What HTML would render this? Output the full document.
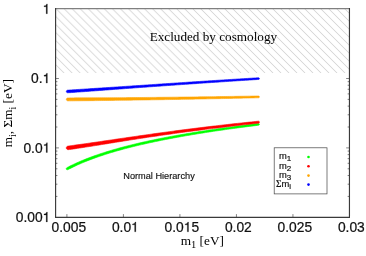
<!DOCTYPE html>
<html><head><meta charset="utf-8"><style>
html,body{margin:0;padding:0;background:#fff;}
body{width:366px;height:256px;overflow:hidden;}
svg{display:block;}
.sans{font-family:"Liberation Sans",sans-serif;}
.serif{font-family:"Liberation Serif",serif;}
</style></head><body>
<svg width="366" height="256" viewBox="0 0 366 256">
<rect width="366" height="256" fill="#fff"/>
<defs><filter id="bl" x="0" y="0" width="100%" height="100%" filterUnits="userSpaceOnUse" color-interpolation-filters="sRGB"><feGaussianBlur stdDeviation="0.3"/></filter><clipPath id="hc"><rect x="55.6" y="8.6" width="293.84999999999997" height="64.50"/></clipPath></defs>
<g filter="url(#bl)"><g clip-path="url(#hc)"><path d="M-8.34 8.60 L56.17 73.10 M-0.30 8.60 L64.20 73.10 M7.74 8.60 L72.24 73.10 M15.77 8.60 L80.28 73.10 M23.81 8.60 L88.31 73.10 M31.84 8.60 L96.35 73.10 M39.88 8.60 L104.38 73.10 M47.92 8.60 L112.42 73.10 M55.95 8.60 L120.46 73.10 M63.99 8.60 L128.49 73.10 M72.02 8.60 L136.53 73.10 M80.06 8.60 L144.56 73.10 M88.10 8.60 L152.60 73.10 M96.13 8.60 L160.64 73.10 M104.17 8.60 L168.67 73.10 M112.20 8.60 L176.71 73.10 M120.24 8.60 L184.74 73.10 M128.28 8.60 L192.78 73.10 M136.31 8.60 L200.82 73.10 M144.35 8.60 L208.85 73.10 M152.38 8.60 L216.89 73.10 M160.42 8.60 L224.92 73.10 M168.46 8.60 L232.96 73.10 M176.49 8.60 L241.00 73.10 M184.53 8.60 L249.03 73.10 M192.56 8.60 L257.07 73.10 M200.60 8.60 L265.10 73.10 M208.60 8.60 L273.10 73.10 M216.60 8.60 L281.10 73.10 M224.60 8.60 L289.10 73.10 M232.60 8.60 L297.10 73.10 M240.60 8.60 L305.10 73.10 M248.60 8.60 L313.10 73.10 M256.60 8.60 L321.10 73.10 M264.60 8.60 L329.10 73.10 M272.60 8.60 L337.10 73.10 M280.60 8.60 L345.10 73.10 M288.60 8.60 L353.10 73.10 M296.60 8.60 L361.10 73.10 M304.60 8.60 L369.10 73.10 M312.60 8.60 L377.10 73.10 M320.60 8.60 L385.10 73.10 M328.60 8.60 L393.10 73.10 M336.60 8.60 L401.10 73.10 M344.60 8.60 L409.10 73.10" stroke="#f8f8f8" stroke-width="2.0" fill="none"/><path d="M-8.34 8.60 L56.17 73.10 M-0.30 8.60 L64.20 73.10 M7.74 8.60 L72.24 73.10 M15.77 8.60 L80.28 73.10 M23.81 8.60 L88.31 73.10 M31.84 8.60 L96.35 73.10 M39.88 8.60 L104.38 73.10 M47.92 8.60 L112.42 73.10 M55.95 8.60 L120.46 73.10 M63.99 8.60 L128.49 73.10 M72.02 8.60 L136.53 73.10 M80.06 8.60 L144.56 73.10 M88.10 8.60 L152.60 73.10 M96.13 8.60 L160.64 73.10 M104.17 8.60 L168.67 73.10 M112.20 8.60 L176.71 73.10 M120.24 8.60 L184.74 73.10 M128.28 8.60 L192.78 73.10 M136.31 8.60 L200.82 73.10 M144.35 8.60 L208.85 73.10 M152.38 8.60 L216.89 73.10 M160.42 8.60 L224.92 73.10 M168.46 8.60 L232.96 73.10 M176.49 8.60 L241.00 73.10 M184.53 8.60 L249.03 73.10 M192.56 8.60 L257.07 73.10 M200.60 8.60 L265.10 73.10 M208.60 8.60 L273.10 73.10 M216.60 8.60 L281.10 73.10 M224.60 8.60 L289.10 73.10 M232.60 8.60 L297.10 73.10 M240.60 8.60 L305.10 73.10 M248.60 8.60 L313.10 73.10 M256.60 8.60 L321.10 73.10 M264.60 8.60 L329.10 73.10 M272.60 8.60 L337.10 73.10 M280.60 8.60 L345.10 73.10 M288.60 8.60 L353.10 73.10 M296.60 8.60 L361.10 73.10 M304.60 8.60 L369.10 73.10 M312.60 8.60 L377.10 73.10 M320.60 8.60 L385.10 73.10 M328.60 8.60 L393.10 73.10 M336.60 8.60 L401.10 73.10 M344.60 8.60 L409.10 73.10" stroke="#d9d9d9" stroke-width="1.0" fill="none"/></g>
<path d="M55.60 127.01 H57.40 M349.45 127.01 H347.65 M55.60 114.79 H57.40 M349.45 114.79 H347.65 M55.60 106.12 H57.40 M349.45 106.12 H347.65 M55.60 99.39 H57.40 M349.45 99.39 H347.65 M55.60 93.90 H57.40 M349.45 93.90 H347.65 M55.60 89.25 H57.40 M349.45 89.25 H347.65 M55.60 85.23 H57.40 M349.45 85.23 H347.65 M55.60 81.68 H57.40 M349.45 81.68 H347.65 M55.60 196.41 H57.40 M349.45 196.41 H347.65 M55.60 184.19 H57.40 M349.45 184.19 H347.65 M55.60 175.52 H57.40 M349.45 175.52 H347.65 M55.60 168.79 H57.40 M349.45 168.79 H347.65 M55.60 163.30 H57.40 M349.45 163.30 H347.65 M55.60 158.65 H57.40 M349.45 158.65 H347.65 M55.60 154.63 H57.40 M349.45 154.63 H347.65 M55.60 151.08 H57.40 M349.45 151.08 H347.65" stroke="#444" stroke-width="0.7" fill="none"/>
<path d="M66.90 217.30 V214.10 M123.41 217.30 V214.10 M179.92 217.30 V214.10 M236.43 217.30 V214.10 M292.94 217.30 V214.10 M55.60 78.50 H58.90 M349.45 78.50 H346.15 M55.60 147.90 H58.90 M349.45 147.90 H346.15" stroke="#666" stroke-width="0.8" fill="none"/>
<path d="M55.6 8.6 H349.45" fill="none" stroke="#808080" stroke-width="1.1"/>
<path d="M55.6 8.1 V217.4 H349.45 V8.1" fill="none" stroke="#3a3a3a" stroke-width="1.15" stroke-linejoin="miter"/>
<path d="M66.30 169.26 L66.20 168.84 L66.23 168.64 L66.27 168.48 L66.33 168.35 L66.39 168.23 L66.46 168.12 L66.54 168.02 L66.62 167.93 L66.70 167.84 L66.79 167.76 L66.88 167.69 L66.97 167.62 L67.07 167.56 L67.17 167.50 L67.27 167.45 L67.37 167.40 L67.47 167.34 L67.57 167.29 L67.67 167.24 L67.77 167.19 L67.87 167.13 L67.97 167.08 L68.07 167.03 L68.17 166.98 L68.27 166.93 L68.37 166.88 L68.48 166.82 L68.58 166.77 L68.68 166.72 L68.78 166.67 L68.88 166.62 L70.89 165.61 L72.91 164.63 L74.92 163.69 L76.93 162.77 L78.95 161.88 L80.96 161.02 L82.97 160.18 L84.98 159.36 L86.99 158.57 L89.00 157.80 L91.01 157.04 L93.02 156.31 L95.03 155.59 L97.04 154.89 L99.05 154.20 L101.05 153.53 L103.06 152.88 L105.07 152.24 L107.08 151.61 L109.08 151.00 L111.09 150.39 L113.09 149.80 L115.10 149.22 L117.11 148.66 L119.11 148.10 L121.12 147.55 L123.12 147.02 L125.13 146.49 L127.13 145.97 L129.14 145.46 L131.14 144.96 L133.15 144.47 L135.15 143.98 L137.16 143.51 L139.16 143.04 L141.16 142.58 L143.17 142.12 L145.17 141.67 L147.18 141.23 L149.18 140.80 L151.18 140.37 L153.19 139.95 L155.19 139.53 L157.19 139.12 L159.20 138.71 L161.20 138.31 L163.20 137.92 L165.21 137.53 L167.21 137.14 L169.21 136.77 L171.21 136.39 L173.22 136.02 L175.22 135.65 L177.22 135.29 L179.22 134.94 L181.23 134.58 L183.23 134.24 L185.23 133.89 L187.23 133.55 L189.24 133.22 L191.24 132.88 L193.24 132.55 L195.24 132.23 L197.24 131.91 L199.25 131.59 L201.25 131.27 L203.25 130.96 L205.25 130.65 L207.25 130.35 L209.26 130.05 L211.26 129.75 L213.26 129.45 L215.26 129.16 L217.26 128.87 L219.26 128.58 L221.27 128.29 L223.27 128.01 L225.27 127.73 L227.27 127.46 L229.27 127.18 L231.27 126.91 L233.28 126.64 L235.28 126.37 L237.28 126.11 L239.28 125.85 L241.28 125.59 L243.28 125.33 L245.28 125.08 L247.28 124.82 L249.29 124.57 L251.29 124.32 L253.29 124.08 L255.29 123.83 L257.29 123.59 L257.79 123.53 L257.89 123.52 L257.99 123.50 L258.09 123.49 L258.19 123.48 L258.29 123.47 L258.39 123.46 L258.49 123.44 L258.59 123.43 L258.69 123.43 L258.80 123.45 L258.90 123.48 L259.01 123.54 L259.12 123.64 L259.24 123.79 L259.40 124.24 L259.40 124.24 L259.36 124.71 L259.28 124.89 L259.19 125.01 L259.10 125.10 L259.00 125.16 L258.91 125.20 L258.81 125.22 L258.71 125.23 L258.61 125.25 L258.51 125.26 L258.41 125.27 L258.31 125.28 L258.21 125.29 L258.11 125.31 L258.01 125.32 L257.51 125.38 L255.51 125.63 L253.51 125.88 L251.51 126.13 L249.51 126.38 L247.52 126.64 L245.52 126.90 L243.52 127.16 L241.52 127.42 L239.52 127.68 L237.52 127.95 L235.52 128.22 L233.52 128.49 L231.53 128.76 L229.53 129.04 L227.53 129.32 L225.53 129.60 L223.53 129.88 L221.53 130.17 L219.54 130.46 L217.54 130.75 L215.54 131.05 L213.54 131.34 L211.54 131.65 L209.54 131.95 L207.55 132.26 L205.55 132.57 L203.55 132.88 L201.55 133.19 L199.55 133.51 L197.56 133.84 L195.56 134.16 L193.56 134.49 L191.56 134.83 L189.56 135.16 L187.57 135.50 L185.57 135.85 L183.57 136.20 L181.57 136.55 L179.58 136.91 L177.58 137.27 L175.58 137.63 L173.58 138.00 L171.59 138.38 L169.59 138.76 L167.59 139.14 L165.59 139.53 L163.60 139.92 L161.60 140.32 L159.60 140.72 L157.61 141.13 L155.61 141.55 L153.61 141.97 L151.62 142.39 L149.62 142.83 L147.62 143.27 L145.63 143.71 L143.63 144.16 L141.64 144.62 L139.64 145.09 L137.64 145.56 L135.65 146.04 L133.65 146.53 L131.66 147.02 L129.66 147.53 L127.67 148.04 L125.67 148.56 L123.68 149.09 L121.68 149.63 L119.69 150.18 L117.69 150.74 L115.70 151.31 L113.71 151.89 L111.71 152.48 L109.72 153.08 L107.72 153.70 L105.73 154.33 L103.74 154.97 L101.75 155.63 L99.75 156.30 L97.76 156.98 L95.77 157.68 L93.78 158.40 L91.79 159.13 L89.80 159.89 L87.81 160.66 L85.82 161.45 L83.83 162.26 L81.84 163.10 L79.85 163.96 L77.87 164.84 L75.88 165.75 L73.89 166.69 L71.91 167.66 L69.92 168.66 L69.82 168.71 L69.72 168.76 L69.62 168.81 L69.52 168.86 L69.43 168.91 L69.33 168.96 L69.23 169.02 L69.13 169.07 L69.03 169.12 L68.93 169.17 L68.83 169.22 L68.73 169.27 L68.63 169.33 L68.53 169.38 L68.43 169.43 L68.33 169.48 L68.23 169.53 L68.13 169.58 L68.03 169.62 L67.92 169.66 L67.81 169.69 L67.70 169.72 L67.58 169.74 L67.46 169.76 L67.34 169.76 L67.21 169.76 L67.07 169.75 L66.93 169.72 L66.77 169.67 L66.60 169.58 L66.30 169.26Z" fill="#00ff00" stroke="#00ff00" stroke-width="0.6" stroke-linejoin="round"/>
<path d="M66.30 148.13 L66.33 147.56 L66.40 147.33 L66.48 147.16 L66.56 147.01 L66.64 146.89 L66.73 146.78 L66.82 146.69 L66.91 146.60 L67.00 146.52 L67.09 146.45 L67.19 146.39 L67.28 146.33 L67.38 146.28 L67.47 146.23 L67.57 146.19 L67.66 146.15 L67.76 146.12 L67.86 146.09 L67.96 146.07 L68.05 146.05 L68.15 146.03 L68.25 146.02 L68.35 146.00 L68.45 145.99 L68.55 145.98 L68.65 145.97 L68.75 145.95 L68.85 145.94 L68.95 145.93 L69.05 145.91 L69.15 145.90 L71.15 145.64 L73.15 145.38 L75.15 145.11 L77.15 144.84 L79.15 144.56 L81.15 144.28 L83.15 144.00 L85.15 143.72 L87.15 143.44 L89.15 143.15 L91.15 142.86 L93.15 142.57 L95.15 142.28 L97.15 141.99 L99.15 141.70 L101.16 141.40 L103.16 141.11 L105.16 140.82 L107.16 140.52 L109.16 140.23 L111.17 139.93 L113.17 139.64 L115.17 139.34 L117.17 139.05 L119.17 138.76 L121.18 138.46 L123.18 138.17 L125.18 137.88 L127.18 137.59 L129.19 137.30 L131.19 137.01 L133.19 136.73 L135.20 136.44 L137.20 136.15 L139.20 135.87 L141.20 135.58 L143.21 135.29 L145.21 135.01 L147.21 134.72 L149.21 134.44 L151.21 134.15 L153.21 133.87 L155.22 133.59 L157.22 133.31 L159.22 133.03 L161.22 132.76 L163.22 132.48 L165.22 132.21 L167.23 131.94 L169.23 131.67 L171.23 131.40 L173.23 131.13 L175.23 130.87 L177.23 130.60 L179.24 130.34 L181.24 130.08 L183.24 129.82 L185.24 129.56 L187.24 129.31 L189.25 129.05 L191.25 128.80 L193.25 128.55 L195.25 128.30 L197.25 128.05 L199.25 127.80 L201.25 127.56 L203.26 127.32 L205.26 127.07 L207.26 126.83 L209.26 126.59 L211.26 126.36 L213.26 126.12 L215.27 125.89 L217.27 125.65 L219.27 125.42 L221.27 125.19 L223.27 124.96 L225.27 124.74 L227.27 124.51 L229.28 124.29 L231.28 124.06 L233.28 123.84 L235.28 123.62 L237.28 123.40 L239.28 123.18 L241.28 122.97 L243.29 122.75 L245.29 122.54 L247.29 122.33 L249.29 122.12 L251.29 121.91 L253.29 121.70 L255.29 121.49 L257.29 121.29 L257.79 121.24 L257.89 121.22 L257.99 121.21 L258.09 121.20 L258.20 121.19 L258.30 121.18 L258.40 121.17 L258.50 121.16 L258.60 121.15 L258.70 121.15 L258.80 121.17 L258.91 121.22 L259.01 121.29 L259.13 121.40 L259.25 121.57 L259.40 122.08 L259.40 122.08 L259.35 122.60 L259.27 122.79 L259.19 122.92 L259.09 123.02 L259.00 123.08 L258.90 123.13 L258.80 123.15 L258.70 123.16 L258.60 123.17 L258.50 123.18 L258.40 123.19 L258.31 123.20 L258.21 123.21 L258.11 123.22 L258.01 123.23 L257.51 123.29 L255.51 123.50 L253.51 123.72 L251.51 123.94 L249.51 124.16 L247.51 124.39 L245.51 124.61 L243.51 124.83 L241.52 125.06 L239.52 125.29 L237.52 125.52 L235.52 125.75 L233.52 125.98 L231.52 126.21 L229.52 126.45 L227.53 126.68 L225.53 126.92 L223.53 127.16 L221.53 127.40 L219.53 127.64 L217.53 127.88 L215.53 128.13 L213.54 128.37 L211.54 128.62 L209.54 128.87 L207.54 129.12 L205.54 129.37 L203.54 129.63 L201.55 129.88 L199.55 130.14 L197.55 130.40 L195.55 130.66 L193.55 130.92 L191.55 131.18 L189.55 131.44 L187.56 131.71 L185.56 131.98 L183.56 132.24 L181.56 132.52 L179.56 132.79 L177.57 133.06 L175.57 133.34 L173.57 133.61 L171.57 133.89 L169.57 134.17 L167.57 134.45 L165.58 134.73 L163.58 135.02 L161.58 135.31 L159.58 135.59 L157.58 135.88 L155.58 136.17 L153.59 136.46 L151.59 136.76 L149.59 137.05 L147.59 137.35 L145.59 137.65 L143.59 137.95 L141.60 138.25 L139.60 138.55 L137.60 138.86 L135.60 139.17 L133.61 139.48 L131.61 139.80 L129.61 140.11 L127.62 140.43 L125.62 140.75 L123.62 141.06 L121.62 141.38 L119.63 141.70 L117.63 142.02 L115.63 142.34 L113.63 142.66 L111.63 142.98 L109.64 143.31 L107.64 143.63 L105.64 143.95 L103.64 144.27 L101.64 144.59 L99.65 144.91 L97.65 145.23 L95.65 145.55 L93.65 145.87 L91.65 146.18 L89.65 146.50 L87.65 146.81 L85.65 147.12 L83.65 147.43 L81.65 147.74 L79.65 148.05 L77.65 148.35 L75.65 148.65 L73.65 148.94 L71.65 149.24 L69.65 149.53 L69.55 149.54 L69.45 149.55 L69.35 149.57 L69.25 149.58 L69.15 149.60 L69.05 149.61 L68.95 149.63 L68.85 149.64 L68.75 149.65 L68.65 149.67 L68.55 149.68 L68.44 149.68 L68.34 149.69 L68.24 149.68 L68.14 149.68 L68.03 149.67 L67.93 149.65 L67.82 149.63 L67.72 149.61 L67.61 149.58 L67.51 149.54 L67.40 149.50 L67.29 149.45 L67.18 149.39 L67.07 149.32 L66.96 149.24 L66.84 149.14 L66.72 149.02 L66.60 148.88 L66.47 148.67 L66.30 148.13Z" fill="#ff0000" stroke="#ff0000" stroke-width="0.6" stroke-linejoin="round"/>
<path d="M66.30 99.39 L66.40 98.90 L66.50 98.71 L66.60 98.56 L66.70 98.45 L66.79 98.36 L66.89 98.28 L66.99 98.21 L67.09 98.15 L67.19 98.09 L67.29 98.05 L67.39 98.01 L67.49 97.98 L67.59 97.95 L67.69 97.93 L67.79 97.91 L67.89 97.90 L67.99 97.89 L68.09 97.89 L68.19 97.89 L68.29 97.89 L68.39 97.89 L68.49 97.89 L68.59 97.89 L68.69 97.89 L68.79 97.89 L68.89 97.89 L68.99 97.89 L69.09 97.89 L69.19 97.89 L69.29 97.89 L69.39 97.89 L71.39 97.88 L73.39 97.88 L75.39 97.87 L77.39 97.87 L79.39 97.86 L81.39 97.86 L83.39 97.85 L85.39 97.84 L87.39 97.84 L89.39 97.83 L91.39 97.82 L93.39 97.81 L95.39 97.80 L97.39 97.79 L99.39 97.78 L101.39 97.77 L103.39 97.76 L105.39 97.75 L107.39 97.74 L109.39 97.73 L111.39 97.72 L113.39 97.71 L115.39 97.70 L117.39 97.68 L119.39 97.67 L121.39 97.66 L123.39 97.64 L125.39 97.63 L127.39 97.62 L129.39 97.60 L131.39 97.59 L133.39 97.57 L135.39 97.56 L137.39 97.54 L139.39 97.52 L141.39 97.51 L143.39 97.49 L145.39 97.47 L147.38 97.45 L149.38 97.43 L151.38 97.41 L153.38 97.40 L155.38 97.38 L157.38 97.36 L159.38 97.34 L161.38 97.31 L163.38 97.29 L165.38 97.27 L167.38 97.25 L169.38 97.23 L171.38 97.21 L173.38 97.18 L175.38 97.16 L177.38 97.14 L179.38 97.12 L181.38 97.09 L183.38 97.07 L185.38 97.04 L187.38 97.02 L189.38 97.00 L191.38 96.97 L193.38 96.95 L195.38 96.92 L197.38 96.89 L199.38 96.87 L201.38 96.84 L203.38 96.81 L205.38 96.79 L207.38 96.76 L209.38 96.73 L211.38 96.71 L213.38 96.68 L215.38 96.65 L217.38 96.62 L219.38 96.59 L221.38 96.56 L223.38 96.53 L225.38 96.50 L227.38 96.47 L229.38 96.44 L231.38 96.41 L233.38 96.38 L235.38 96.35 L237.38 96.32 L239.38 96.29 L241.38 96.26 L243.38 96.23 L245.38 96.20 L247.38 96.16 L249.38 96.13 L251.38 96.10 L253.38 96.07 L255.38 96.03 L257.38 96.00 L257.88 95.99 L257.98 95.99 L258.08 95.99 L258.18 95.99 L258.28 95.99 L258.38 95.98 L258.48 95.98 L258.58 95.98 L258.68 95.98 L258.78 95.99 L258.88 96.01 L258.98 96.06 L259.09 96.13 L259.19 96.24 L259.29 96.41 L259.40 96.87 L259.40 96.87 L259.31 97.33 L259.21 97.50 L259.11 97.61 L259.02 97.69 L258.92 97.74 L258.82 97.77 L258.72 97.78 L258.62 97.79 L258.52 97.79 L258.42 97.79 L258.32 97.79 L258.22 97.79 L258.12 97.80 L258.02 97.80 L257.92 97.80 L257.42 97.81 L255.42 97.86 L253.42 97.90 L251.42 97.95 L249.42 97.99 L247.42 98.03 L245.42 98.08 L243.42 98.12 L241.42 98.17 L239.42 98.21 L237.42 98.25 L235.42 98.29 L233.42 98.34 L231.42 98.38 L229.42 98.42 L227.42 98.46 L225.42 98.50 L223.42 98.54 L221.42 98.59 L219.42 98.63 L217.42 98.67 L215.42 98.71 L213.42 98.75 L211.42 98.79 L209.42 98.83 L207.42 98.87 L205.42 98.90 L203.42 98.94 L201.42 98.98 L199.42 99.02 L197.42 99.06 L195.42 99.09 L193.42 99.13 L191.42 99.17 L189.42 99.21 L187.42 99.24 L185.42 99.28 L183.42 99.31 L181.42 99.35 L179.42 99.38 L177.42 99.42 L175.42 99.45 L173.42 99.49 L171.42 99.52 L169.42 99.56 L167.42 99.59 L165.42 99.62 L163.42 99.66 L161.42 99.69 L159.42 99.72 L157.42 99.75 L155.42 99.79 L153.42 99.82 L151.42 99.85 L149.42 99.88 L147.42 99.91 L145.41 99.94 L143.41 99.97 L141.41 100.00 L139.41 100.03 L137.41 100.06 L135.41 100.09 L133.41 100.12 L131.41 100.14 L129.41 100.17 L127.41 100.20 L125.41 100.23 L123.41 100.26 L121.41 100.28 L119.41 100.31 L117.41 100.34 L115.41 100.36 L113.41 100.39 L111.41 100.41 L109.41 100.44 L107.41 100.46 L105.41 100.49 L103.41 100.51 L101.41 100.54 L99.41 100.56 L97.41 100.58 L95.41 100.61 L93.41 100.63 L91.41 100.65 L89.41 100.67 L87.41 100.69 L85.41 100.71 L83.41 100.73 L81.41 100.75 L79.41 100.77 L77.41 100.79 L75.41 100.81 L73.41 100.83 L71.41 100.85 L69.41 100.87 L69.31 100.87 L69.21 100.87 L69.11 100.87 L69.01 100.87 L68.91 100.87 L68.81 100.87 L68.71 100.87 L68.61 100.87 L68.51 100.88 L68.41 100.88 L68.31 100.88 L68.21 100.88 L68.11 100.88 L68.01 100.88 L67.91 100.87 L67.81 100.86 L67.71 100.85 L67.61 100.82 L67.51 100.80 L67.41 100.77 L67.31 100.73 L67.21 100.69 L67.11 100.64 L67.01 100.58 L66.91 100.51 L66.81 100.43 L66.70 100.33 L66.60 100.22 L66.50 100.08 L66.40 99.89 L66.30 99.39Z" fill="#ffa500" stroke="#ffa500" stroke-width="0.6" stroke-linejoin="round"/>
<path d="M66.30 91.56 L66.37 91.09 L66.46 90.90 L66.55 90.76 L66.64 90.65 L66.74 90.56 L66.83 90.48 L66.93 90.41 L67.02 90.35 L67.12 90.30 L67.22 90.26 L67.32 90.22 L67.42 90.19 L67.51 90.16 L67.61 90.14 L67.71 90.12 L67.81 90.11 L67.91 90.11 L68.01 90.10 L68.11 90.09 L68.21 90.09 L68.31 90.08 L68.41 90.08 L68.51 90.07 L68.61 90.06 L68.71 90.06 L68.81 90.05 L68.91 90.04 L69.01 90.04 L69.11 90.03 L69.21 90.03 L69.31 90.02 L71.31 89.90 L73.31 89.77 L75.31 89.65 L77.31 89.52 L79.31 89.39 L81.31 89.27 L83.31 89.14 L85.31 89.01 L87.31 88.88 L89.31 88.75 L91.31 88.62 L93.31 88.49 L95.31 88.36 L97.32 88.23 L99.32 88.10 L101.32 87.97 L103.32 87.84 L105.32 87.71 L107.32 87.58 L109.32 87.45 L111.32 87.31 L113.32 87.18 L115.32 87.05 L117.32 86.92 L119.32 86.79 L121.32 86.65 L123.32 86.52 L125.32 86.39 L127.32 86.26 L129.32 86.13 L131.32 85.99 L133.32 85.86 L135.33 85.73 L137.33 85.60 L139.33 85.47 L141.33 85.33 L143.33 85.19 L145.33 85.06 L147.33 84.92 L149.33 84.79 L151.33 84.65 L153.33 84.52 L155.33 84.38 L157.33 84.25 L159.33 84.11 L161.33 83.98 L163.33 83.84 L165.33 83.71 L167.33 83.57 L169.33 83.44 L171.33 83.30 L173.33 83.17 L175.33 83.04 L177.33 82.90 L179.33 82.77 L181.33 82.64 L183.33 82.51 L185.33 82.38 L187.33 82.24 L189.34 82.11 L191.34 81.98 L193.34 81.85 L195.34 81.72 L197.34 81.59 L199.34 81.46 L201.34 81.33 L203.34 81.20 L205.34 81.07 L207.34 80.94 L209.34 80.81 L211.34 80.68 L213.34 80.56 L215.34 80.43 L217.34 80.30 L219.34 80.17 L221.34 80.05 L223.34 79.92 L225.34 79.80 L227.34 79.67 L229.34 79.54 L231.34 79.42 L233.34 79.29 L235.34 79.17 L237.34 79.04 L239.34 78.92 L241.34 78.80 L243.34 78.67 L245.34 78.55 L247.35 78.43 L249.35 78.31 L251.35 78.18 L253.35 78.06 L255.35 77.94 L257.35 77.82 L257.85 77.79 L257.95 77.78 L258.05 77.78 L258.15 77.77 L258.25 77.76 L258.35 77.76 L258.45 77.75 L258.55 77.75 L258.65 77.74 L258.75 77.74 L258.85 77.76 L258.95 77.80 L259.06 77.87 L259.16 77.96 L259.27 78.12 L259.40 78.55 L259.40 78.55 L259.33 78.99 L259.24 79.15 L259.14 79.26 L259.05 79.34 L258.95 79.39 L258.85 79.42 L258.75 79.44 L258.65 79.45 L258.55 79.45 L258.45 79.46 L258.35 79.46 L258.25 79.47 L258.15 79.48 L258.05 79.48 L257.95 79.49 L257.45 79.52 L255.45 79.65 L253.45 79.78 L251.45 79.91 L249.45 80.04 L247.45 80.16 L245.46 80.29 L243.46 80.42 L241.46 80.55 L239.46 80.68 L237.46 80.81 L235.46 80.95 L233.46 81.08 L231.46 81.21 L229.46 81.34 L227.46 81.47 L225.46 81.61 L223.46 81.74 L221.46 81.87 L219.46 82.00 L217.46 82.14 L215.46 82.27 L213.46 82.41 L211.46 82.54 L209.46 82.68 L207.46 82.81 L205.46 82.95 L203.46 83.08 L201.46 83.22 L199.46 83.36 L197.46 83.49 L195.46 83.63 L193.46 83.77 L191.46 83.90 L189.46 84.04 L187.47 84.18 L185.47 84.32 L183.47 84.46 L181.47 84.60 L179.47 84.74 L177.47 84.87 L175.47 85.01 L173.47 85.15 L171.47 85.29 L169.47 85.43 L167.47 85.58 L165.47 85.72 L163.47 85.86 L161.47 86.00 L159.47 86.14 L157.47 86.28 L155.47 86.42 L153.47 86.57 L151.47 86.71 L149.47 86.85 L147.47 86.99 L145.47 87.14 L143.47 87.28 L141.47 87.42 L139.47 87.57 L137.47 87.71 L135.47 87.86 L133.48 88.01 L131.48 88.16 L129.48 88.31 L127.48 88.46 L125.48 88.60 L123.48 88.75 L121.48 88.90 L119.48 89.05 L117.48 89.20 L115.48 89.35 L113.48 89.49 L111.48 89.64 L109.48 89.79 L107.48 89.94 L105.48 90.09 L103.48 90.23 L101.48 90.38 L99.48 90.53 L97.48 90.67 L95.49 90.82 L93.49 90.97 L91.49 91.11 L89.49 91.26 L87.49 91.40 L85.49 91.55 L83.49 91.69 L81.49 91.84 L79.49 91.98 L77.49 92.12 L75.49 92.27 L73.49 92.41 L71.49 92.55 L69.49 92.69 L69.39 92.70 L69.29 92.70 L69.19 92.71 L69.09 92.72 L68.99 92.72 L68.89 92.73 L68.79 92.74 L68.69 92.74 L68.59 92.75 L68.49 92.76 L68.39 92.77 L68.29 92.77 L68.19 92.78 L68.09 92.79 L67.99 92.79 L67.89 92.80 L67.79 92.79 L67.69 92.78 L67.58 92.77 L67.48 92.75 L67.38 92.73 L67.28 92.70 L67.18 92.66 L67.07 92.61 L66.97 92.56 L66.86 92.49 L66.76 92.41 L66.65 92.31 L66.54 92.19 L66.43 92.01 L66.30 91.56Z" fill="#0000ff" stroke="#0000ff" stroke-width="0.6" stroke-linejoin="round"/>
<g class="sans" font-size="13.8" fill="#111" stroke="#111" stroke-width="0.22"><text x="51.54" y="231.80">0</text><text x="59.21" y="231.80">.</text><text x="63.05" y="231.80">0</text><text x="70.72" y="231.80">0</text><text x="78.39" y="231.80">5</text><text x="111.88" y="231.80">0</text><text x="119.56" y="231.80">.</text><text x="123.39" y="231.80">0</text><path d="M134.64 231.80 L134.64 224.83 L132.47 224.83 L132.47 223.96 C134.35 223.71 134.63 223.48 135.05 222.02 L135.85 222.02 L135.85 231.80 Z"/><text x="164.56" y="231.80">0</text><text x="172.23" y="231.80">.</text><text x="176.07" y="231.80">0</text><path d="M187.31 231.80 L187.31 224.83 L185.15 224.83 L185.15 223.96 C187.02 223.71 187.30 223.48 187.73 222.02 L188.53 222.02 L188.53 231.80 Z"/><text x="191.41" y="231.80">5</text><text x="224.90" y="231.80">0</text><text x="232.58" y="231.80">.</text><text x="236.41" y="231.80">0</text><text x="244.09" y="231.80">2</text><text x="277.58" y="231.80">0</text><text x="285.25" y="231.80">.</text><text x="289.09" y="231.80">0</text><text x="296.76" y="231.80">2</text><text x="304.43" y="231.80">5</text><text x="337.92" y="231.80">0</text><text x="345.60" y="231.80">.</text><text x="349.43" y="231.80">0</text><text x="357.10" y="231.80">3</text><path d="M46.15 13.70 L46.15 6.73 L43.98 6.73 L43.98 5.86 C45.86 5.61 46.14 5.38 46.57 3.92 L47.37 3.92 L47.37 13.70 Z"/><text x="31.07" y="83.10">0</text><text x="38.74" y="83.10">.</text><path d="M46.15 83.10 L46.15 76.13 L43.98 76.13 L43.98 75.26 C45.86 75.01 46.14 74.78 46.57 73.32 L47.37 73.32 L47.37 83.10 Z"/><text x="23.40" y="152.50">0</text><text x="31.07" y="152.50">.</text><text x="34.90" y="152.50">0</text><path d="M46.15 152.50 L46.15 145.53 L43.98 145.53 L43.98 144.66 C45.86 144.41 46.14 144.18 46.57 142.72 L47.37 142.72 L47.37 152.50 Z"/><text x="15.72" y="221.90">0</text><text x="23.40" y="221.90">.</text><text x="27.23" y="221.90">0</text><text x="34.90" y="221.90">0</text><path d="M46.15 221.90 L46.15 214.93 L43.98 214.93 L43.98 214.06 C45.86 213.81 46.14 213.58 46.57 212.12 L47.37 212.12 L47.37 221.90 Z"/></g>
<text class="serif" font-size="13.2" x="213.4" y="41.3" text-anchor="middle">Excluded by cosmology</text>
<text class="sans" font-size="9.2" x="159" y="179" text-anchor="middle" fill="#111" stroke="#111" stroke-width="0.15">Normal Hierarchy</text>
<text class="serif" font-size="13.3" x="202.3" y="244.9" text-anchor="middle">m<tspan font-size="10.5" dy="3.2">1</tspan><tspan dy="-3.2"> [eV]</tspan></text>
<text class="serif" font-size="13.3" transform="translate(12.0,113.2) rotate(-90)" text-anchor="middle">m<tspan font-size="10" dy="3.6">i</tspan><tspan dy="-3.6">, Σm</tspan><tspan font-size="10" dy="3.6">i</tspan><tspan dy="-3.6"> [eV]</tspan></text>
<rect x="274.2" y="147.8" width="52.8" height="46.1" fill="#fff" stroke="#444" stroke-width="0.7"/>
<g class="sans" font-size="9.4" fill="#111" stroke="#111" stroke-width="0.18">
<text x="279" y="159.4">m<tspan font-size="8" dy="1.9">1</tspan></text>
<text x="279" y="168.7">m<tspan font-size="8" dy="1.9">2</tspan></text>
<text x="279" y="178.0">m<tspan font-size="8" dy="1.9">3</tspan></text>
<text x="276" y="187.2"><tspan class="serif">Σ</tspan>m<tspan font-size="8" dy="1.9">i</tspan></text>
</g>
<circle cx="308.5" cy="157.0" r="1.3" fill="#00ff00"/>
<circle cx="308.5" cy="166.3" r="1.3" fill="#ff0000"/>
<circle cx="308.5" cy="175.6" r="1.3" fill="#ffa500"/>
<circle cx="308.5" cy="184.6" r="1.3" fill="#0000ff"/>
</g></svg>
</body></html>
